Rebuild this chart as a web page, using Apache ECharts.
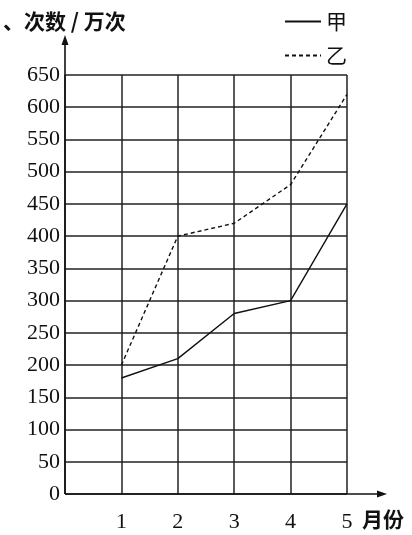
<!DOCTYPE html>
<html><head><meta charset="utf-8">
<script src="https://cdn.jsdelivr.net/npm/echarts@6/dist/echarts.min.js"></script>
<style>html,body{margin:0;padding:0;background:#fff}#c{width:412px;height:535px}</style>
</head><body><div id="c"></div>
<script>
const months = [1, 2, 3, 4, 5];
const jia = [180, 210, 280, 300, 450];
const yi = [200, 400, 420, 480, 620];
const seriesNames = ['甲', '乙'];
const yTitle = '、次数 / 万次';
const xTitle = '月份';

const serif = '"Liberation Serif", "Times New Roman", serif';
const cjk = '"Noto Sans CJK SC", sans-serif';
const chart = echarts.init(document.getElementById('c'), null, {renderer: 'canvas'});
const option = {
  animation: false,
  backgroundColor: '#fff',
  grid: {left: 65, right: 65, top: 75, bottom: 41},
  legend: {
    orient: 'vertical', right: 60, top: 6, itemWidth: 36, itemHeight: 14, itemGap: 13,
    itemStyle: {color: 'transparent', borderWidth: 0},
    textStyle: {fontFamily: cjk, fontSize: 21, color: '#111'},
    data: seriesNames
  },
  title: {text: yTitle, left: -2, top: 6, textStyle: {fontFamily: cjk, fontSize: 21, fontWeight: 'bold', color: '#111'}},
  xAxis: {
    type: 'value', min: 0, max: 5, interval: 1,
    axisLine: {show: false}, axisTick: {show: false},
    splitLine: {show: true, lineStyle: {color: '#222', width: 1.5}},
    axisLabel: {margin: 17, fontFamily: serif, fontSize: 22, color: '#111', formatter: v => v === 0 ? '' : String(v)},
    name: xTitle, nameLocation: 'end', nameGap: 15,
    nameTextStyle: {fontFamily: cjk, fontSize: 21, fontWeight: 'bold', color: '#111', verticalAlign: 'top', padding: [15, 0, 0, 0]}
  },
  yAxis: {
    type: 'value', min: 0, max: 650, interval: 50,
    axisLine: {show: false}, axisTick: {show: false},
    splitLine: {show: true, lineStyle: {color: '#222', width: 1.5}},
    axisLabel: {margin: 5, fontFamily: serif, fontSize: 22, color: '#111'}
  },
  series: [
    {name: seriesNames[0], type: 'line', symbol: 'none', data: months.map((m, i) => [m, jia[i]]),
     lineStyle: {color: '#111', width: 1.4}, itemStyle: {color: '#111'}},
    {name: seriesNames[1], type: 'line', symbol: 'none', data: months.map((m, i) => [m, yi[i]]),
     lineStyle: {color: '#111', width: 1.4, type: [4, 3]}, itemStyle: {color: '#111'}}
  ]
};
chart.setOption(option);
const o = chart.convertToPixel({gridIndex: 0}, [0, 0]);
const tr = chart.convertToPixel({gridIndex: 0}, [5, 650]);
const yTop = tr[1] - 40, xEnd = tr[0] + 40;
chart.setOption({graphic: [
  {type: 'line', shape: {x1: o[0], y1: o[1], x2: o[0], y2: yTop + 4}, style: {stroke: '#111', lineWidth: 1.6}},
  {type: 'polygon', shape: {points: [[o[0], yTop], [o[0] - 3.5, yTop + 10], [o[0] + 3.5, yTop + 10]]}, style: {fill: '#111'}},
  {type: 'line', shape: {x1: o[0], y1: o[1], x2: xEnd - 4, y2: o[1]}, style: {stroke: '#111', lineWidth: 1.6}},
  {type: 'polygon', shape: {points: [[xEnd, o[1]], [xEnd - 10, o[1] - 3.5], [xEnd - 10, o[1] + 3.5]]}, style: {fill: '#111'}}
]});
</script></body></html>
